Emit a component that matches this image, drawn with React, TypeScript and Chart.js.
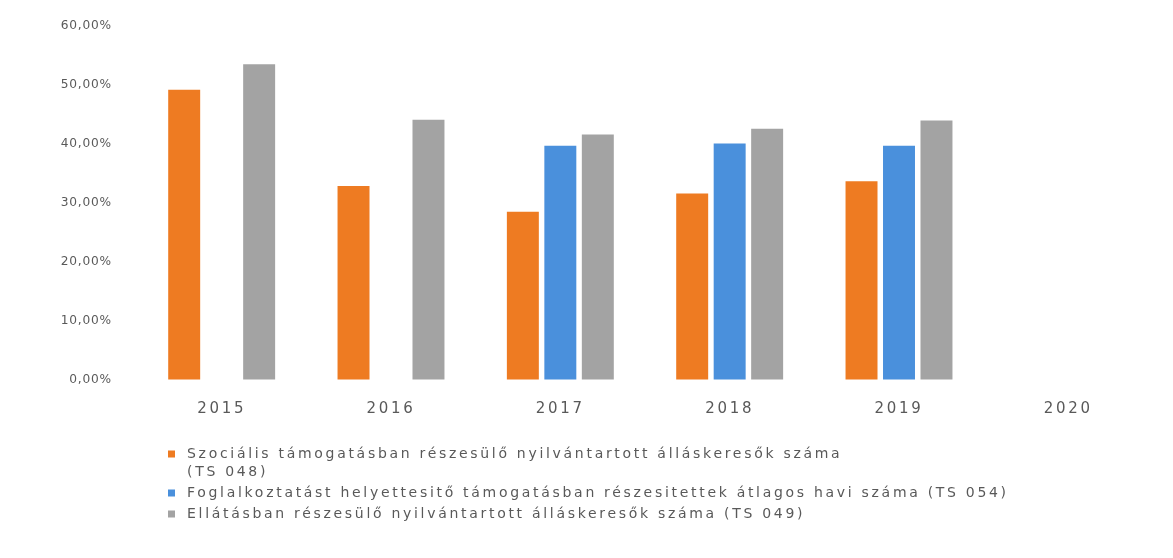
import React, { useEffect, useRef } from "react";
import { Chart, registerables } from "chart.js";

Chart.register(...registerables);

const categories = ["2015", "2016", "2017", "2018", "2019", "2020"];
const seriesLabels = [
  ["Szociális támogatásban részesülő nyilvántartott álláskeresők száma", "(TS 048)"],
  ["Foglalkoztatást helyettesitő támogatásban részesitettek átlagos havi száma (TS 054)"],
  ["Ellátásban részesülő nyilvántartott álláskeresők száma (TS 049)"],
];
const socialis = [49.2, 32.9, 28.5, 31.6, 33.7, null];
const foglalkoztatas = [null, null, 39.7, 40.1, 39.7, null];
const ellatas = [53.5, 44.1, 41.6, 42.6, 44.0, null];
const yTicks = [0, 10, 20, 30, 40, 50, 60];

const colors = ["#EE7B22", "#4A90DC", "#A3A3A3"];
const textColor = "#595959";
const FONT = "'DejaVu Sans', sans-serif";
const X_SPACING = "2.7px";
const Y_SPACING = "0.8px";
const LEGEND_SPACING = "2.7px";

const spacingPlugin = {
  id: "spacing",
  beforeLayout(chart: any) {
    chart.ctx.letterSpacing = X_SPACING;
  },
  beforeDraw(chart: any) {
    chart.ctx.letterSpacing = X_SPACING;
  },
  afterDatasetsDraw(chart: any) {
    chart.ctx.letterSpacing = Y_SPACING;
  },
};

const legendPlugin = {
  id: "customLegend",
  afterDraw(chart: any) {
    const ctx = chart.ctx;
    ctx.save();
    ctx.letterSpacing = LEGEND_SPACING;
    ctx.font = `14px ${FONT}`;
    ctx.fillStyle = textColor;
    ctx.textBaseline = "middle";
    ctx.textAlign = "left";
    const x0 = 168;
    const lineStarts = [454, 493, 514];
    chart.data.datasets.forEach((ds: any, i: number) => {
      const y = lineStarts[i];
      ctx.fillStyle = ds.backgroundColor;
      ctx.fillRect(x0, y - 3.5, 7, 7);
      ctx.fillStyle = textColor;
      const lines = ds.legendLines as string[];
      lines.forEach((t, j) => {
        ctx.fillText(t, x0 + 19, y + j * 18);
      });
    });
    ctx.restore();
  },
};

export default function App() {
  const ref = useRef<HTMLCanvasElement>(null);
  useEffect(() => {
    if (!ref.current) return;
    const data = [socialis, foglalkoztatas, ellatas];
    const chart = new Chart(ref.current, {
      type: "bar",
      data: {
        labels: categories,
        datasets: data.map((d, i) => ({
          label: seriesLabels[i].join(" "),
          legendLines: seriesLabels[i],
          data: d,
          backgroundColor: colors[i],
          borderWidth: 0,
          categoryPercentage: 0.664,
          barPercentage: 0.853,
          skipNull: false,
        })) as any,
      },
      options: {
        animation: false,
        responsive: false,
        maintainAspectRatio: false,
        layout: { padding: { top: 26, right: 20, left: 0, bottom: 0 } },
        plugins: {
          legend: { display: false },
          tooltip: { enabled: false },
          title: { display: false },
        },
        scales: {
          x: {
            grid: { display: false, drawTicks: false },
            border: { display: false },
            ticks: {
              color: textColor,
              font: { family: FONT, size: 15 },
              padding: 20,
              maxRotation: 0,
            },
            afterFit(scale: any) {
              scale.height = 178;
            },
          },
          y: {
            min: 0,
            max: 60,
            grid: {
              display: true,
              drawOnChartArea: false,
              drawTicks: true,
              tickLength: 25,
              tickColor: "rgba(0,0,0,0)",
            },
            border: { display: false },
            afterBuildTicks(scale: any) {
              scale.ticks = yTicks.map((v) => ({ value: v }));
            },
            ticks: {
              z: 1,
              color: textColor,
              font: { family: FONT, size: 12.2 },
              padding: 0,
              callback: (v: any) => Number(v).toFixed(2).replace(".", ",") + "%",
            },
            afterFit(scale: any) {
              scale.width = 137;
            },
          },
        },
      },
      plugins: [spacingPlugin, legendPlugin],
    });
    return () => chart.destroy();
  }, []);
  return (
    <div style={{ position: "fixed", left: 0, top: 0, width: 1173, height: 558, background: "#fff" }}>
      <canvas ref={ref} width={1173} height={558} style={{ width: 1173, height: 558 }} />
    </div>
  );
}
